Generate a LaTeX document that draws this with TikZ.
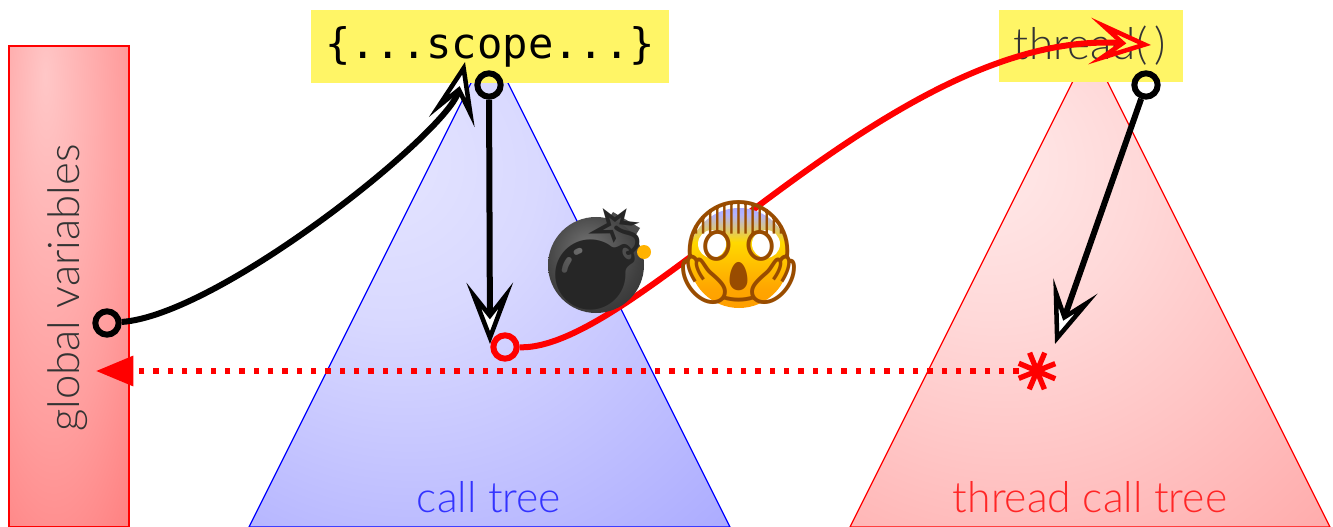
\documentclass[tikz,border=0pt]{standalone}
\usepackage{fontspec}
\usepackage{tikz}
\usetikzlibrary{positioning,arrows.meta}
\newfontfamily\thinfont{Lato Light}
\newfontfamily\codefont{DejaVu Sans Mono}
\newfontfamily\emojifont{Noto Emoji}
\definecolor{notefill}{HTML}{FFF566}
\pgfdeclareradialshading{callshade}{\pgfpoint{-12bp}{14bp}}{color(0bp)=(white!90!blue);color(15bp)=(white!85!blue);color(90bp)=(white!40!blue)}
\pgfdeclareradialshading{threadshade}{\pgfpoint{-12bp}{14bp}}{color(0bp)=(white!92!red);color(15bp)=(white!85!red);color(90bp)=(white!40!red)}
\pgfdeclareradialshading{globalshade}{\pgfpoint{-10bp}{22bp}}{color(0bp)=(white!78!red);color(30bp)=(white!62!red);color(60bp)=(white!42!red);color(100bp)=(white!25!red)}
\pgfdeclareverticalshading{faceshade}{100bp}{color(0bp)=(orange!90!yellow);color(35bp)=(orange!70!yellow);color(58bp)=(yellow!70!orange);color(72bp)=(blue!30!white);color(100bp)=(blue!55!white)}
\pgfdeclareradialshading{bombshade}{\pgfpoint{-5bp}{10bp}}{color(0bp)=(black!55);color(25bp)=(black!75);color(50bp)=(black!90)}
\begin{document}
\begin{tikzpicture}[x=0.75pt, y=-0.75pt]
\tikzstyle{note}=[fill=notefill, inner sep=0pt]
\tikzstyle{origin}=[circle, draw, line width=4.5pt, minimum size=17.5pt, inner sep=0pt]
\tikzstyle{flow}=[line width=4.5pt, -{Stealth[length=46pt, width=35pt, inset=22pt, open, fill=white, line width=3.4pt]}]
\useasboundingbox (0,0) rectangle (1333,527);
\shade[shading=globalshade] (9,46) rectangle (129,527);
\draw[red, line width=0.9pt] (9,527) -- (9,46) -- (129,46) -- (129,527) -- cycle;
\shade[shading=callshade] (249,527) -- (489.5,46) -- (730,527) -- cycle;
\draw[blue, line width=0.9pt] (249,527) -- (489.5,46) -- (730,527) -- cycle;
\shade[shading=threadshade] (850,527) -- (1090,47) -- (1330,527) -- cycle;
\draw[red, line width=0.9pt] (850,527) -- (1090,47) -- (1330,527) -- cycle;
\node[note, minimum width=138pt, minimum height=54pt] (thread) at (1091,46) {\thinfont\fontsize{33pt}{33pt}\selectfont\color{black!80}\kern-2pt thread(\kern5pt)};
\node[note, minimum width=268.5pt, minimum height=55pt] (scope) at (490,46.5) {\raisebox{-2pt}{\codefont\fontsize{31.6pt}{31.6pt}\selectfont \{...scope...\}}};
\node[rotate=90, font=\thinfont\fontsize{32.8pt}{32.8pt}\selectfont, text=black!80] (globals) at (68,288) {global variables};
\node[font=\thinfont\fontsize{32pt}{32pt}\selectfont, text=blue!80!white] (calllabel) at (489,497) {call tree};
\node[font=\thinfont\fontsize{32pt}{32pt}\selectfont, text=red!85!white] (threadlabel) at (1090,497) {thread call tree};
\node[origin] (globalstart) at (107,323) {};
\node[origin] (scopestart) at (489,85) {};
\node[origin, draw=red] (callsite) at (505,347) {};
\node[origin] (threadstart) at (1146,85) {};
\coordinate (scopetip) at (465,62);
\coordinate (sitetip) at (490,344);
\coordinate (threadtip) at (1151,45);
\coordinate (startip) at (1055,344);
\coordinate (globaltip) at (96,371);
\node[inner sep=0pt, minimum size=27pt] (star) at (1037,371) {};
\draw[red, line width=4pt] (star.67) -- (star.247) (star.112) -- (star.292) (star.22) -- (star.202) (star.157) -- (star.337);
\draw[flow] (globalstart) .. controls (220,315) and (450,130) .. (scopetip);
\draw[flow] (scopestart) -- (sitetip);
\draw[flow] (threadstart) -- (startip);
\draw[flow, red, -{Stealth[length=46pt, width=35pt, inset=22pt, open, fill=notefill, line width=3.4pt]}] (callsite) .. controls (640,350) and (890,28) .. (threadtip);
\draw[red, line width=4pt, dash pattern=on 4pt off 6.75pt, -{Triangle[length=28pt, width=22pt]}] (star) -- (globaltip);
\fill[black!70] (613,212) -- (640,228) -- (622,258) -- (595,240) -- cycle;
\shade[shading=bombshade] (596,265) circle (48);
\node[font=\emojifont\fontsize{75pt}{75pt}\selectfont, text=black!85] (bomb) at (598,259) {💣};
\fill[orange!60!yellow] (644,252) circle (7);
\shade[shading=faceshade] (739,258) circle (50);
\fill[white] (712,244) circle (14) (766,244) circle (14);
\node[font=\emojifont\fontsize{75pt}{75pt}\selectfont, text=orange!60!black] (scream) at (739,253) {😱};
\end{tikzpicture}
\end{document}
